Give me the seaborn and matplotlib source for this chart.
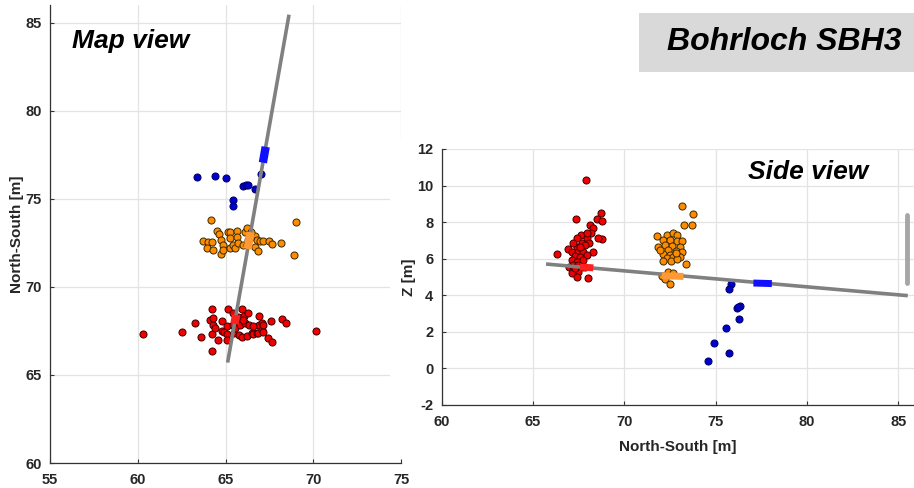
import numpy as np
import pandas as pd
import matplotlib
matplotlib.use("Agg")
import matplotlib.pyplot as plt
import seaborn as sns
from matplotlib.patches import Rectangle

# ---------------- data ----------------
# Map view (East-West, North-South)
map_red_ew = [60.28, 62.50, 63.24, 63.60, 64.21, 64.12, 64.21, 64.21, 64.31, 64.40, 64.31, 64.55,
              64.78, 64.78, 64.91, 65.07, 65.14, 65.10, 65.10, 65.45, 65.45, 65.50, 65.64, 65.54,
              65.73, 65.77, 65.83, 65.96, 65.96, 66.07, 66.11, 66.21, 66.30, 66.36, 66.49, 66.59,
              66.78, 66.87, 66.93, 66.93, 67.06, 67.10, 67.16, 67.16, 67.44, 67.63, 67.57, 68.20,
              68.43, 70.16, 65.98, 66.59]
map_red_ns = [67.31, 67.42, 67.94, 67.16, 68.77, 68.13, 67.31, 66.34, 67.84, 67.65, 68.22, 66.99,
              68.07, 67.52, 67.42, 67.75, 68.73, 67.35, 66.99, 68.50, 67.84, 67.40, 68.13, 67.65,
              68.26, 67.27, 67.84, 68.73, 67.18, 68.35, 67.94, 67.22, 68.50, 67.84, 67.40, 67.31,
              67.37, 67.37, 67.84, 68.35, 67.97, 67.56, 67.84, 67.42, 67.08, 66.89, 68.07, 68.16,
              67.97, 67.50, 68.13, 67.75]
map_orange_ew = [64.17, 64.50, 64.65, 63.74, 64.02, 64.25, 63.93, 64.31, 64.72, 64.84, 64.72, 64.88,
                 65.16, 65.26, 65.26, 65.26, 65.41, 65.54, 65.64, 65.68, 65.73, 65.98, 66.11, 66.21,
                 66.21, 66.30, 66.68, 66.68, 66.78, 66.87, 66.97, 67.16, 67.50, 67.63, 68.16, 68.92,
                 69.02, 66.40, 66.44]
map_orange_ns = [73.77, 73.18, 72.99, 72.58, 72.54, 72.54, 72.20, 72.10, 72.67, 72.39, 71.88, 72.10,
                 73.10, 73.10, 72.77, 72.20, 72.39, 72.20, 73.18, 72.82, 72.48, 72.39, 73.14, 73.33,
                 72.35, 72.67, 72.27, 72.86, 72.67, 72.01, 72.58, 72.61, 72.58, 72.42, 72.48, 71.78,
                 73.66, 72.77, 73.10]
map_blue_ew = [63.36, 64.40, 65.03, 65.45, 65.45, 66.02, 66.15, 66.26, 66.68, 67.00]
map_blue_ns = [76.21, 76.31, 76.17, 74.92, 74.60, 75.74, 75.80, 75.78, 75.55, 76.38]

# Side view (North-South, Z)
side_red_ns = [67.90, 67.33, 68.72, 68.48, 68.75, 68.11, 68.26, 68.15, 68.75, 68.53, 67.62, 67.39,
               67.94, 67.66, 68.08, 67.85, 67.39, 66.93, 67.12, 66.33, 67.48, 67.75, 68.30, 67.30,
               67.57, 67.94, 67.12, 67.39, 67.75, 67.21, 67.48, 66.99, 67.66, 67.21, 67.48, 67.12,
               67.39, 67.99, 67.30, 67.85, 67.94, 67.21, 67.57]
side_red_z = [10.31, 8.17, 8.48, 8.16, 8.06, 7.84, 7.66, 7.39, 7.06, 7.12, 7.30, 7.12,
              7.12, 6.88, 6.84, 6.75, 6.66, 6.52, 6.39, 6.24, 6.39, 6.39, 6.39, 6.15,
              6.08, 6.21, 5.93, 5.84, 5.93, 5.66, 5.66, 5.57, 5.57, 5.38, 5.29, 5.20,
              4.99, 4.93, 5.47, 5.57, 7.39, 6.84, 6.62]
side_orange_ns = [73.14, 73.74, 73.28, 73.68, 71.76, 72.31, 72.64, 72.89, 72.13, 72.49, 72.86, 73.14,
                  71.85, 72.22, 72.58, 73.04, 72.40, 72.80, 73.14, 72.13, 72.49, 72.95, 72.31, 72.67,
                  73.04, 72.13, 72.55, 72.86, 73.37, 72.40, 72.67, 72.04, 72.22, 72.49, 72.80, 71.94]
side_orange_z = [8.88, 8.43, 7.84, 7.84, 7.26, 7.30, 7.39, 7.30, 7.02, 7.02, 6.99, 6.97,
                 6.66, 6.75, 6.71, 6.66, 6.48, 6.43, 6.39, 6.24, 6.21, 6.15, 6.02, 6.08,
                 6.08, 5.89, 5.89, 5.97, 5.71, 5.29, 5.20, 5.06, 4.88, 4.62, 6.30, 6.48]
side_blue_ns = [75.82, 75.75, 76.18, 76.33, 76.24, 76.29, 75.54, 74.90, 75.75, 74.59]
side_blue_z = [4.62, 4.35, 3.32, 3.43, 3.37, 2.71, 2.21, 1.41, 0.86, 0.41]

# Borehole trace and sensor segments
bore_map_ew = [65.12, 68.62]
bore_map_ns = [65.70, 85.45]
bore_side_ns = [65.71, 85.51]
bore_side_z = [5.71, 3.98]
seg_map_ew = {"blue": [67.13, 67.29], "orange": [66.26, 66.43], "red": [65.51, 65.60]}
seg_map_ns = {"blue": [77.05, 77.95], "orange": [72.15, 73.10], "red": [67.90, 68.40]}
seg_side_ns = {"blue": [77.06, 78.07], "orange": [72.04, 73.23], "red": [67.57, 68.30]}
seg_side_z = {"blue": [4.67, 4.64], "orange": [5.07, 5.03], "red": [5.55, 5.50]}
bar_side_ns = [85.46, 85.46]
bar_side_z = [4.69, 8.39]

x_ticks_map = [55, 60, 65, 70, 75]
y_ticks_map = [60, 65, 70, 75, 80, 85]
x_ticks_side = [60, 65, 70, 75, 80, 85]
y_ticks_side = [-2, 0, 2, 4, 6, 8, 10, 12]

# ---------------- style ----------------
sns.set_theme(style="white")
plt.rcParams["font.family"] = ["Liberation Sans", "DejaVu Sans"]
plt.rcParams["xtick.direction"] = "in"
plt.rcParams["ytick.direction"] = "in"

TXT = "#262626"
GRID = "#e3e3e3"
col_fill = {"red": "#f00000", "orange": "#ff8c00", "blue": "#0000cc"}
col_edge = {"red": "#3a0000", "orange": "#3a2a00", "blue": "#000066"}
col_seg = {"red": "#ff2020", "orange": "#ff9933", "blue": "#1010ff"}

fig = plt.figure(figsize=(9.14, 4.88), dpi=100)
W, H = 914, 488

def frac(x0, y0, x1, y1):
    return [x0 / W, 1 - y1 / H, (x1 - x0) / W, (y1 - y0) / H]

ax1 = fig.add_axes(frac(50, 5, 401, 463), zorder=0)
cover = Rectangle((390 / W, 1 - 455 / H), 1, (455 - 139) / H, transform=fig.transFigure,
                  facecolor="white", edgecolor="none", zorder=0.5)
fig.patches.append(cover)
ax2 = fig.add_axes(frac(441.7, 149, 914, 405), zorder=1)


def style_axes(ax, xt, yt, xlim, ylim):
    ax.set_xlim(*xlim)
    ax.set_ylim(*ylim)
    ax.set_xticks(xt)
    ax.set_yticks(yt)
    ax.set_xticklabels([str(v) for v in xt], fontweight="bold", fontsize=10.5, color=TXT)
    ax.set_yticklabels([str(v) for v in yt], fontweight="bold", fontsize=10.5, color=TXT)
    ax.grid(True, color=GRID, lw=0.9)
    ax.set_axisbelow(True)
    for s in ["top", "right"]:
        ax.spines[s].set_visible(False)
    for s in ["left", "bottom"]:
        ax.spines[s].set_color("#333333")
        ax.spines[s].set_linewidth(0.9)
    ax.tick_params(axis="both", length=3, width=0.8, color="#333333",
                   left=True, bottom=True)
    ax.tick_params(axis="x", pad=7)
    ax.tick_params(axis="y", pad=6)
    ax.set_facecolor("white")


def seg(ax, xs, ys, color, lw, z, cap="butt"):
    sns.lineplot(x=xs, y=ys, ax=ax, color=color, lw=lw, sort=False, zorder=z,
                 estimator=None, solid_capstyle=cap)


# ---------- Map view ----------
style_axes(ax1, x_ticks_map, y_ticks_map, (55, 75), (60, 86))
seg(ax1, bore_map_ew, bore_map_ns, "#808080", 2.6, 3)
for name, xs, ys in [("red", map_red_ew, map_red_ns), ("orange", map_orange_ew, map_orange_ns),
                     ("blue", map_blue_ew, map_blue_ns)]:
    sns.scatterplot(x=xs, y=ys, ax=ax1, color=col_fill[name], edgecolor=col_edge[name],
                    linewidth=0.7, s=26, zorder=2, legend=False)
for name in ["red", "orange", "blue"]:
    seg(ax1, seg_map_ew[name], seg_map_ns[name], col_seg[name], 6, 4)
ax1.set_xlabel("")
ax1.set_ylabel("North-South [m]", fontweight="bold", fontsize=11, color=TXT, labelpad=1)
ax1.text(0.063, 0.948, "Map view", transform=ax1.transAxes, fontsize=19, fontweight="bold",
         fontstyle="italic", color="black", ha="left", va="top")

# ---------- Side view ----------
style_axes(ax2, x_ticks_side, y_ticks_side, (60, 85.85), (-2, 12))
seg(ax2, bore_side_ns, bore_side_z, "#808080", 2.6, 3)
seg(ax2, bar_side_ns, bar_side_z, "#a6a6a6", 3.5, 3, cap="round")
for name, xs, ys in [("red", side_red_ns, side_red_z), ("orange", side_orange_ns, side_orange_z),
                     ("blue", side_blue_ns, side_blue_z)]:
    sns.scatterplot(x=xs, y=ys, ax=ax2, color=col_fill[name], edgecolor=col_edge[name],
                    linewidth=0.7, s=26, zorder=2, legend=False)
for name in ["red", "orange", "blue"]:
    seg(ax2, seg_side_ns[name], seg_side_z[name], col_seg[name], 5, 4)
ax2.set_xlabel("North-South [m]", fontweight="bold", fontsize=11, color=TXT, labelpad=8)
ax2.set_ylabel("Z [m]", fontweight="bold", fontsize=11, color=TXT, labelpad=1)
ax2.text(0.648, 0.957, "Side view", transform=ax2.transAxes, fontsize=19, fontweight="bold",
         fontstyle="italic", color="black", ha="left", va="top")

# ---------- Title box ----------
box = Rectangle((639 / W, 1 - 72 / H), (914 - 639) / W, (72 - 13) / H, transform=fig.transFigure,
                facecolor="#d9d9d9", edgecolor="none", zorder=2)
fig.patches.append(box)
fig.text(667 / W, 1 - 42.5 / H, "Bohrloch SBH3", fontsize=23, fontweight="bold",
         fontstyle="italic", color="black", ha="left", va="center", zorder=3)

fig.savefig("out.png", dpi=100)
